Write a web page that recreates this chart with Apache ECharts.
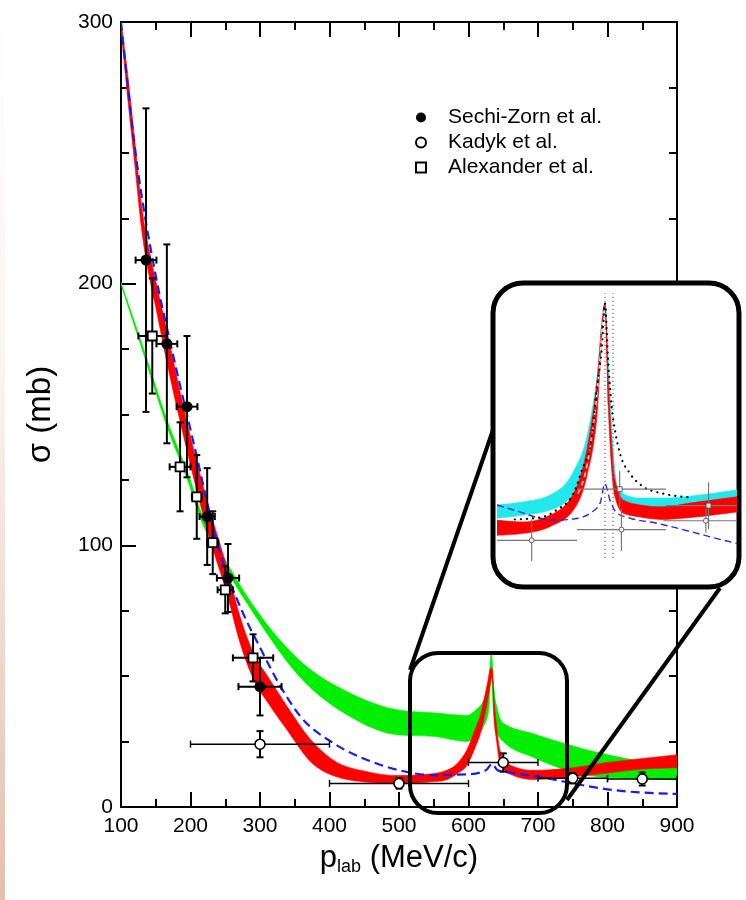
<!DOCTYPE html>
<html><head><meta charset="utf-8">
<script src="https://cdn.jsdelivr.net/npm/echarts@6/dist/echarts.min.js"></script>
<style>html,body{margin:0;padding:0;background:#fff}#c{width:746px;height:900px}</style>
</head><body><div id="c"></div>
<script>
// ---------- main panel data ----------
const szX = [136, 166, 195, 224, 254, 300];
const szY = [209, 177, 153, 111, 87.5, 46];
const szXErr = [15, 15, 15, 11, 16, 31];
const szYErr = [58, 38, 27, 18.5, 13, 11];

const kdX = [300, 500, 650, 750, 850];
const kdY = [24, 9, 17, 11, 10.7];
const kdXErr = [100, 100, 50, 50, 50];
const kdYErr = [5, 2, 3.5, 2, 2.5];

const alX = [145, 185, 209, 232, 250, 290];
const alY = [180, 130, 118.5, 101, 83, 57];
const alXErr = [20, 15, 7, 8, 11, 29];
const alYErr = [22, 17, 16, 12, 9, 9];

const redX  = [100,110,120,130,142,150,166,188,225,254,271,294,311,340,372,405,454,500,540,563,585,598,610,617,627,632,634,637,640,645,652,660,693,750,800,850,900];
const redLo = [297,270,245,220,201,191,170,144,105,80,63,47,40,29,17.5,12,9.5,9,9.5,10,13,16,23,28,40,48,50,33,26,17,14,12.5,10.5,11.5,13,14.5,15];
const redHi = [300,279,254,229,211,201,182,155,116,90,73,57,50,38,26,18,13.5,12,12.5,13.5,17,22,30,35,47,53,53,40,32,22,18,16,14,15,17,18.5,20];

const greenX  = [100,132,166,199,214,240,297,357,430,501,549,598,610,622,629,633,636,642,650,693,742,789,837,900];
const greenLo = [199.5,173.5,145.5,122.5,110.5,96.5,71.5,49.8,34.5,27.5,27,25,27,31,37,50,36,28,25,19,14,11.5,11,10.3];
const greenHi = [200.5,175.5,148,125.5,113.5,99.5,74.5,56,43.5,37,36,35,37,41,47,59,47,37,32,28,24,20.6,18,15.3];

const blueX = [100,120,150,173,209,238,274,298,333,357,405,454,501,549,600,625,634,642,664,713,760,808,900];
const blueY = [300,252,203,175,134,101,75,62,44.5,35,24.5,18,14,12.2,12.5,14,16.5,14,13,11,8.5,6.5,5];

const xTickLabels = [100,200,300,400,500,600,700,800,900];
const yTickLabels = [0,100,200,300];

// ---------- inset data ----------
const cyanX  = [510,540,570,596,611,622,631.4,635.2,639,642.7,646.4,652,671,697,727,780];
const cyanLo = [18.8,19.3,20.1,22.7,27.0,35.4,52.4,40,29,23.8,21.7,20.6,19.6,19.6,19.8,20.6];
const cyanHi = [20.9,21.4,22.5,26.2,31.7,40.7,52.9,44,33.3,26.2,23.3,22.7,22.0,22.0,22.3,23.3];

const inRedX  = [510,540,570,596,611,622,631.4,635.2,642.7,652,671,697,727,780];
const inRedLo = [16.1,16.4,17.5,20.1,25.4,34.4,52.4,36.5,22.2,19.6,19.0,18.6,18.9,19.8];
const inRedHi = [18.5,18.2,19.3,22.7,29.6,39.7,52.9,40.7,24.9,21.7,20.9,20.6,21.2,22.2];

const dotX = [530,558,577,596,607,615,622,628,631.4,635.2,639,642.7,648.3,659.6,674.5,697,727];
const dotY = [18.6,18.9,20.1,22.7,27.0,30.1,39.1,46.0,52.9,43.4,36.5,32.8,29.1,25.9,23.8,22.7,22.1];

const inBlueX = [510,540,558,577,601,615,626,631.4,637,645,660,690,727,765,780];
const inBlueY = [20.9,19.6,18.8,18.5,18.8,19.6,21.2,24.3,21.7,19.6,18.8,18.0,16.7,15.3,14.8];

const grayX = [601,611,618,624,629.5];
const grayY = [22.7,27.0,33.3,40.7,51.8];

const threshX = [631.5, 640.5];
const threshYRange = [12.5, 54.5];

const inCircX = [549, 650, 745];
const inCircY = [15.3, 17.0, 18.4];
const inCircXLo = [510, 600, 697];
const inCircXHi = [600, 700, 780];
const inCircYErr = [3.3, 3.4, 1.9];

const inSqX = [648, 748];
const inSqY = [23.4, 20.8];
const inSqXLo = [600, 700];
const inSqXHi = [700, 780];
const inSqYErr = [2.9, 3.7];

// ---------- helpers ----------
const FONT = '"Liberation Sans", Arial, Helvetica, sans-serif';
function pairs(xs, ys) { return xs.map((x, i) => [x, ys[i]]); }

// monotone-x cubic segments through pixel points (rendering only)
function monoSegs(P) {
  const n = P.length, h = [], s = [], t = new Array(n).fill(0);
  for (let i = 0; i < n - 1; i++) {
    h[i] = P[i + 1][0] - P[i][0];
    s[i] = h[i] ? (P[i + 1][1] - P[i][1]) / h[i] : 0;
  }
  for (let i = 1; i < n - 1; i++) {
    const p = (s[i - 1] * h[i] + s[i] * h[i - 1]) / ((h[i - 1] + h[i]) || 1);
    t[i] = ((Math.sign(s[i - 1]) + Math.sign(s[i])) * Math.min(Math.abs(s[i - 1]), Math.abs(s[i]), 0.5 * Math.abs(p))) || 0;
  }
  if (n > 2) { t[0] = (3 * s[0] - t[1]) / 2; t[n - 1] = (3 * s[n - 2] - t[n - 2]) / 2; }
  else if (n === 2) { t[0] = t[1] = s[0]; }
  const segs = [];
  for (let i = 0; i < n - 1; i++) {
    const dx = h[i] / 3;
    segs.push([P[i][0] + dx, P[i][1] + dx * t[i], P[i + 1][0] - dx, P[i + 1][1] - dx * t[i + 1], P[i + 1][0], P[i + 1][1]]);
  }
  return segs;
}
function f(v) { return v.toFixed(2); }
function openPath(P) {
  let d = 'M' + f(P[0][0]) + ' ' + f(P[0][1]);
  monoSegs(P).forEach(c => { d += 'C' + c.map(f).join(' '); });
  return d;
}
function bandPath(U, L) {
  let d = openPath(U);
  const segs = monoSegs(L);
  const n = L.length;
  d += 'L' + f(L[n - 1][0]) + ' ' + f(L[n - 1][1]);
  for (let i = n - 2; i >= 0; i--) {
    const c = segs[i];
    d += 'C' + [c[2], c[3], c[0], c[1], L[i][0], L[i][1]].map(f).join(' ');
  }
  return d + 'Z';
}

function band(xs, lo, hi, color, ai, z) {
  return {
    type: 'custom', xAxisIndex: ai, yAxisIndex: ai, z: z, silent: true, clip: true,
    data: xs.map((x, i) => [x, lo[i], hi[i]]), encode: { x: 0, y: [1, 2] },
    renderItem: function (params, api) {
      if (params.dataIndex !== 0) return null;
      const U = xs.map((x, i) => api.coord([x, hi[i]]));
      const L = xs.map((x, i) => api.coord([x, lo[i]]));
      return { type: 'path', shape: { pathData: bandPath(U, L) }, style: { fill: color, stroke: color, lineWidth: 0.6 } };
    }
  };
}
function curve(xs, ys, ai, z, style) {
  return {
    type: 'custom', xAxisIndex: ai, yAxisIndex: ai, z: z, silent: true, clip: true,
    data: pairs(xs, ys), encode: { x: 0, y: 1 },
    renderItem: function (params, api) {
      if (params.dataIndex !== 0) return null;
      const P = xs.map((x, i) => api.coord([x, ys[i]]));
      return { type: 'path', shape: { pathData: openPath(P) }, style: Object.assign({ fill: 'none' }, style) };
    }
  };
}

function errSeries(data, ai, opt) {
  return {
    type: 'custom', xAxisIndex: ai, yAxisIndex: ai, z: opt.z, silent: true,
    data: data, encode: { x: 0, y: 1 },
    renderItem: function (params, api) {
      const x = api.value(0), y = api.value(1);
      const xl = api.value(2), xh = api.value(3), ye = api.value(4);
      const c = api.coord([x, y]);
      const l = api.coord([xl, y]), r = api.coord([xh, y]);
      const t = api.coord([x, y + ye]), b = api.coord([x, y - ye]);
      const sh = { stroke: opt.color, lineWidth: opt.hw };
      const sv = { stroke: opt.color, lineWidth: opt.vw };
      const ch = [
        { type: 'line', shape: { x1: l[0], y1: c[1], x2: r[0], y2: c[1] }, style: sh },
        { type: 'line', shape: { x1: c[0], y1: t[1], x2: c[0], y2: b[1] }, style: sv }
      ];
      if (opt.cap) {
        const k = opt.cap;
        ch.push({ type: 'line', shape: { x1: l[0], y1: c[1] - k, x2: l[0], y2: c[1] + k }, style: sh });
        ch.push({ type: 'line', shape: { x1: r[0], y1: c[1] - k, x2: r[0], y2: c[1] + k }, style: sh });
        ch.push({ type: 'line', shape: { x1: c[0] - k, y1: t[1], x2: c[0] + k, y2: t[1] }, style: sv });
        ch.push({ type: 'line', shape: { x1: c[0] - k, y1: b[1], x2: c[0] + k, y2: b[1] }, style: sv });
      }
      return { type: 'group', children: ch };
    }
  };
}

const szErr = szX.map((x, i) => [x, szY[i], x - szXErr[i], x + szXErr[i], szYErr[i]]);
const kdErr = kdX.map((x, i) => [x, kdY[i], x - kdXErr[i], x + kdXErr[i], kdYErr[i]]);
const alErr = alX.map((x, i) => [x, alY[i], x - alXErr[i], x + alXErr[i], alYErr[i]]);
const icErr = inCircX.map((x, i) => [x, inCircY[i], inCircXLo[i], inCircXHi[i], inCircYErr[i]]);
const isErr = inSqX.map((x, i) => [x, inSqY[i], inSqXLo[i], inSqXHi[i], inSqYErr[i]]);

const axisLineStyle = { color: '#000', width: 2 };
function mainX(pos, showLabel) {
  return {
    type: 'value', gridIndex: 0, position: pos, min: 100, max: 900, interval: 100,
    axisLine: { show: true, onZero: false, lineStyle: axisLineStyle },
    axisTick: { show: true, inside: true, length: 15, lineStyle: { color: '#000', width: 2 } },
    minorTick: { show: true, splitNumber: 2, length: 8, lineStyle: { color: '#000', width: 2 } },
    splitLine: { show: false },
    axisLabel: { show: showLabel, color: '#000', fontSize: 21, fontFamily: FONT, margin: 9,
      formatter: v => (xTickLabels.indexOf(v) >= 0 ? String(v) : '') },
    name: showLabel ? '{p|p}{s|lab}{p| (MeV/c)}' : '', nameLocation: 'middle', nameGap: 26,
    nameTextStyle: { rich: {
      p: { fontSize: 31, fontFamily: FONT, color: '#000', lineHeight: 34 },
      s: { fontSize: 18, fontFamily: FONT, color: '#000', lineHeight: 34, padding: [16, 0, 0, 0] } } }
  };
}
function mainY(pos, showLabel) {
  return {
    type: 'value', gridIndex: 0, position: pos, min: 0, max: 300, interval: 100,
    axisLine: { show: true, onZero: false, lineStyle: axisLineStyle },
    axisTick: { show: true, inside: true, length: 15, lineStyle: { color: '#000', width: 2 } },
    minorTick: { show: true, splitNumber: 4, length: 8, lineStyle: { color: '#000', width: 2 } },
    splitLine: { show: false },
    axisLabel: { show: showLabel, color: '#000', fontSize: 21, fontFamily: FONT, margin: 8,
      formatter: v => (yTickLabels.indexOf(v) >= 0 ? String(v) : '') },
    name: showLabel ? 'σ (mb)' : '', nameLocation: 'middle', nameGap: 64,
    nameTextStyle: { fontSize: 33, fontFamily: FONT, color: '#000' }
  };
}

const series = [
  band(greenX, greenLo, greenHi, '#00ee00', 0, 2),
  band(redX, redLo, redHi, '#ff0000', 0, 3),
  curve(blueX, blueY, 0, 4, { stroke: '#1a1aff', lineWidth: 2.2, lineDash: [9, 5] }),
  errSeries(szErr, 0, { color: '#000', hw: 2, vw: 2, cap: 3.5, z: 5 }),
  errSeries(alErr, 0, { color: '#000', hw: 2, vw: 2, cap: 3.5, z: 5 }),
  errSeries(kdErr, 0, { color: '#000', hw: 1.4, vw: 2, cap: 3.5, z: 5 }),
  { type: 'scatter', name: 'Sechi-Zorn et al.', xAxisIndex: 0, yAxisIndex: 0, data: pairs(szX, szY), symbol: 'circle', symbolSize: 11,
    itemStyle: { color: '#000', opacity: 1 }, z: 6 },
  { type: 'scatter', name: 'Kadyk et al.', xAxisIndex: 0, yAxisIndex: 0, data: pairs(kdX, kdY), symbol: 'circle', symbolSize: 10,
    itemStyle: { color: '#fff', borderColor: '#000', borderWidth: 1.6, opacity: 1 }, z: 6 },
  { type: 'scatter', name: 'Alexander et al.', xAxisIndex: 0, yAxisIndex: 0, data: pairs(alX, alY), symbol: 'rect', symbolSize: 9,
    itemStyle: { color: '#fff', borderColor: '#000', borderWidth: 1.8, opacity: 1 }, z: 6 },
  // inset (axes index 2)
  band(cyanX, cyanLo, cyanHi, '#22e8ec', 2, 12),
  band(inRedX, inRedLo, inRedHi, '#ff0000', 2, 13),
  curve(grayX, grayY, 2, 14, { stroke: '#d8d8d8', lineWidth: 1.5, lineDash: [5, 4] }),
  curve(dotX, dotY, 2, 15, { stroke: '#000', lineWidth: 2.2, lineDash: [0.1, 6], lineCap: 'round' }),
  curve(inBlueX, inBlueY, 2, 15, { stroke: '#2a2acc', lineWidth: 1.4, lineDash: [7, 4] })
].concat(
  threshX.map(tx => ({ type: 'line', xAxisIndex: 2, yAxisIndex: 2, data: [[tx, threshYRange[0]], [tx, threshYRange[1]]],
     showSymbol: false, symbol: 'none', lineStyle: { color: '#777', width: 1.3, type: [1.3, 2.7] }, silent: true, z: 14 })),
  [errSeries(icErr, 2, { color: '#777', hw: 1.2, vw: 1.2, cap: 0, z: 16 }),
   errSeries(isErr, 2, { color: '#777', hw: 1.2, vw: 1.2, cap: 0, z: 16 }),
   { type: 'scatter', xAxisIndex: 2, yAxisIndex: 2, data: pairs(inCircX, inCircY), symbol: 'circle', symbolSize: 5,
     itemStyle: { color: '#fff', borderColor: '#444', borderWidth: 1 }, z: 17, silent: true },
   { type: 'scatter', xAxisIndex: 2, yAxisIndex: 2, data: pairs(inSqX, inSqY), symbol: 'rect', symbolSize: 5,
     itemStyle: { color: '#fff', borderColor: '#444', borderWidth: 1 }, z: 17, silent: true }]
);

const chart = echarts.init(document.getElementById('c'), null, { renderer: 'canvas' });
chart.setOption({
  animation: false,
  backgroundColor: '#fff',
  grid: [
    { left: 121, right: 69, top: 22, bottom: 93 },
    { left: 497, top: 290, width: 240, height: 290 }
  ],
  xAxis: [mainX('bottom', true), mainX('top', false),
          { type: 'value', gridIndex: 1, min: 510, max: 780, show: false }],
  yAxis: [mainY('left', true), mainY('right', false),
          { type: 'value', gridIndex: 1, min: 9, max: 55, show: false }],
  legend: {
    orient: 'vertical', left: 410, top: 102, itemWidth: 10, itemHeight: 10, itemGap: 4,
    data: ['Sechi-Zorn et al.', 'Kadyk et al.', 'Alexander et al.'],
    formatter: name => '{g|}' + name,
    textStyle: { color: '#000', fontSize: 21, fontFamily: FONT, rich: { g: { width: 17 } } },
    selectedMode: false
  },
  graphic: [
    { type: 'rect', z: 1, shape: { x: 0, y: 0, width: 5, height: 900 },
      style: { fill: { type: 'linear', x: 0, y: 0, x2: 0, y2: 1, colorStops: [
        { offset: 0, color: '#ffffff' }, { offset: 0.4, color: '#fbf4f2' }, { offset: 1, color: '#e4bfae' }] } } },
    { type: 'rect', z: 10, shape: { x: 493, y: 283, width: 246, height: 304, r: 30 },
      style: { fill: '#fff', stroke: '#000', lineWidth: 5 } },
    { type: 'rect', z: 20, shape: { x: 410, y: 653, width: 157, height: 160, r: 28 },
      style: { fill: 'none', stroke: '#000', lineWidth: 4 } },
    { type: 'line', z: 20, shape: { x1: 493, y1: 430, x2: 410, y2: 670 }, style: { stroke: '#000', lineWidth: 4 } },
    { type: 'line', z: 20, shape: { x1: 720, y1: 588, x2: 567, y2: 800 }, style: { stroke: '#000', lineWidth: 4 } }
  ],
  series: series
});
</script></body></html>
